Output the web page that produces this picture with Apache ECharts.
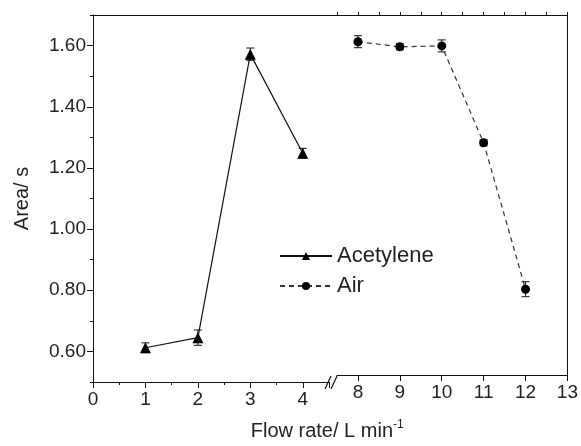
<!DOCTYPE html>
<html>
<head>
<meta charset="utf-8">
<script src="https://cdn.jsdelivr.net/npm/echarts@6/dist/echarts.min.js"></script>
<style>
  html, body { margin: 0; padding: 0; background: #fff; }
  #chart { width: 581px; height: 446px; }
</style>
</head>
<body>
<div id="chart"></div>
<script>
// datos
var acetFlow = [1, 2, 3, 4];
var acetArea = [0.612, 0.645, 1.572, 1.248];
var acetErr  = [0.016, 0.025, 0.02, 0.016];

var airFlow = [8, 9, 10, 11, 12];
var airArea = [1.611, 1.594, 1.597, 1.274, 0.786];
var airErr  = [0.02, 0.01, 0.02, 0.01, 0.025];

var rightTicks = [8, 9, 10, 11, 12, 13];
var yTicks = [0.6, 0.8, 1.0, 1.2, 1.4, 1.6];

var font = 'Liberation Sans, Arial, sans-serif';
var txt = '#222';

function pares(xs, ys) {
  return xs.map(function (x, i) { return [x, ys[i]]; });
}
function barras(xs, ys, es) {
  return xs.map(function (x, i) { return [x, ys[i] - es[i], ys[i] + es[i]]; });
}

function renderErr(params, api) {
  var x = api.value(0);
  var lo = api.coord([x, api.value(1)]);
  var hi = api.coord([x, api.value(2)]);
  var w = 4;
  var st = { stroke: '#111', lineWidth: 1 };
  return {
    type: 'group',
    children: [
      { type: 'line', shape: { x1: lo[0], y1: lo[1], x2: hi[0], y2: hi[1] }, style: st },
      { type: 'line', shape: { x1: lo[0] - w, y1: lo[1], x2: lo[0] + w, y2: lo[1] }, style: st },
      { type: 'line', shape: { x1: hi[0] - w, y1: hi[1], x2: hi[0] + w, y2: hi[1] }, style: st }
    ]
  };
}

var lineBlack = { lineStyle: { color: '#111', width: 1 } };
var tickBlack = { color: '#111' };
var noAxis = { axisLine: { show: false }, axisTick: { show: false }, axisLabel: { show: false }, splitLine: { show: false } };

var option = {
  animation: false,
  textStyle: { fontFamily: font },
  grid: [
    { left: 93, width: 236, top: 15, bottom: 64 },
    { left: 337, right: 9, top: 15, bottom: 64 }
  ],
  xAxis: [
    {
      gridIndex: 0, type: 'value', min: 0, max: 4.5, interval: 1,
      axisLine: lineBlack,
      axisTick: { show: true, length: 6, lineStyle: tickBlack },
      minorTick: { show: true, splitNumber: 2, length: 3, lineStyle: tickBlack },
      splitLine: { show: false },
      axisLabel: { color: txt, fontSize: 19, margin: 8,
        formatter: function (v) { return Number.isInteger(v) ? v : ''; } }
    },
    {
      gridIndex: 1, type: 'value', min: 7.5, max: 13,
      axisLine: lineBlack,
      axisTick: { show: true, length: 6, customValues: rightTicks, lineStyle: tickBlack },
      splitLine: { show: false },
      axisLabel: { color: txt, fontSize: 19, margin: 8, customValues: rightTicks },
      name: 'Flow rate/ L min{sup|-1}',
      nameLocation: 'middle',
      nameGap: 44,
      nameTextStyle: {
        color: txt, fontSize: 20, padding: [0, 0, 0, -250],
        rich: { sup: { fontSize: 12, verticalAlign: 'top', padding: [0, 0, 12, 0], color: txt } }
      }
    },
    Object.assign({}, noAxis, {
      // marcas menores del lado derecho
      gridIndex: 1, type: 'value', min: 7.5, max: 13, interval: 0.5,
      axisTick: { show: true, length: 3, lineStyle: tickBlack }
    }),
    Object.assign({}, noAxis, {
      gridIndex: 0, type: 'value', min: 0, max: 4.5, position: 'top', axisLine: lineBlack
    }),
    Object.assign({}, noAxis, {
      gridIndex: 1, type: 'value', min: 7.5, max: 13, position: 'top', axisLine: lineBlack
    })
  ],
  yAxis: [
    {
      gridIndex: 0, type: 'value', min: 0.5, max: 1.7,
      axisLine: { show: true, lineStyle: { color: '#111', width: 1 } },
      axisTick: { show: true, length: 6, customValues: yTicks, lineStyle: tickBlack },
      splitLine: { show: false },
      axisLabel: { color: txt, fontSize: 19, margin: 7, customValues: yTicks,
        formatter: function (v) { return v.toFixed(2); } },
      name: 'Area/ s', nameLocation: 'middle', nameGap: 61,
      nameTextStyle: { color: txt, fontSize: 20 }
    },
    Object.assign({}, noAxis, {
      // marcas menores del eje y
      gridIndex: 0, type: 'value', min: 0.5, max: 1.7, interval: 0.1,
      position: 'left',
      axisTick: { show: true, length: 3, lineStyle: tickBlack }
    }),
    Object.assign({}, noAxis, {
      gridIndex: 1, type: 'value', min: 0.5, max: 1.7, position: 'right',
      axisLine: { show: true, lineStyle: { color: '#111', width: 1 } }
    })
  ],
  legend: {
    orient: 'vertical', left: 274, top: 240,
    itemWidth: 52, itemHeight: 10, itemGap: 8,
    textStyle: { color: txt, fontSize: 22, fontFamily: font },
    data: ['Acetylene', 'Air']
  },
  graphic: [
    { type: 'line', shape: { x1: 329, y1: 15.5, x2: 337, y2: 15.5 }, style: { stroke: '#111', lineWidth: 1 } },
    { type: 'line', shape: { x1: 325, y1: 389, x2: 331, y2: 376 }, style: { stroke: '#111', lineWidth: 1.2 } },
    { type: 'line', shape: { x1: 331, y1: 389, x2: 337, y2: 376 }, style: { stroke: '#111', lineWidth: 1.2 } }
  ],
  series: [
    {
      name: 'Acetylene', type: 'line', xAxisIndex: 0, yAxisIndex: 0,
      data: pares(acetFlow, acetArea),
      symbol: 'triangle', symbolSize: 11,
      lineStyle: { color: '#111', width: 1.2 },
      itemStyle: { color: '#000' }, z: 3
    },
    {
      name: 'Air', type: 'line', xAxisIndex: 1, yAxisIndex: 2,
      data: pares(airFlow, airArea),
      symbol: 'circle', symbolSize: 9,
      lineStyle: { color: '#333', width: 1.2, type: [5, 4] },
      itemStyle: { color: '#000' }, z: 3
    },
    {
      type: 'custom', xAxisIndex: 0, yAxisIndex: 0,
      data: barras(acetFlow, acetArea, acetErr),
      renderItem: renderErr, z: 2
    },
    {
      type: 'custom', xAxisIndex: 1, yAxisIndex: 2,
      data: barras(airFlow, airArea, airErr),
      renderItem: renderErr, z: 2
    }
  ]
};

var chart = echarts.init(document.getElementById('chart'));
chart.setOption(option);
</script>
</body>
</html>
